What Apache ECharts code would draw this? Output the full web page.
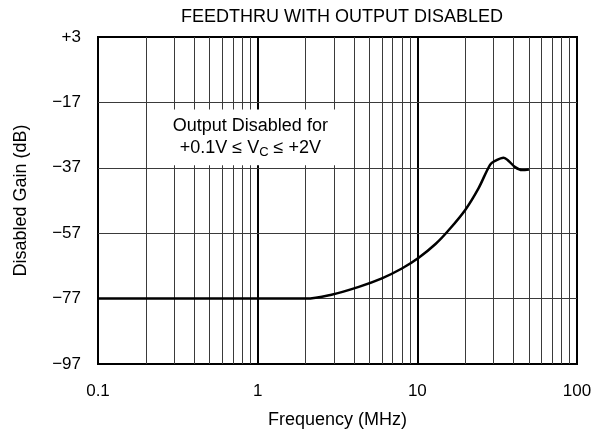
<!DOCTYPE html>
<html>
<head>
<meta charset="utf-8">
<script src="https://cdn.jsdelivr.net/npm/echarts@6/dist/echarts.min.js"></script>
<style>
html,body{margin:0;padding:0;background:#fff;}
#chart{width:599px;height:434px;}
</style>
</head>
<body>
<div id="chart"></div>
<script>
// Data
var freqMHz = [0.1, 1, 2, 2.9, 4.3, 6, 8, 10.2, 13, 15.7, 20, 24.2, 28.6, 30.7, 34.7, 37.3, 41, 45.2, 50];
var gainDB  = [-77, -77, -77, -75.8, -73.4, -70.8, -67.8, -64.5, -60.3, -56.1, -49.8, -43.2, -36, -34.9, -33.9, -34.9, -36.8, -37.7, -37.5];
var yTicks = [-97, -77, -57, -37, -17, 3];
var xTicks = [0.1, 1, 10, 100];
var minorFreqs = [0.2,0.3,0.4,0.5,0.6,0.7,0.8,0.9, 2,3,4,5,6,7,8,9, 20,30,40,50,60,70,80,90];
var majorFreqs = [1, 10];
var gridGains = [-17, -37, -57, -77];

var FONT = "'Liberation Sans', Arial, Helvetica, sans-serif";
var chart = echarts.init(document.getElementById('chart'));

var curve = freqMHz.map(function (f, i) { return [f, gainDB[i]]; });

function fmtY(v) {
  if (v > 0) return '+' + v;
  if (v < 0) return '\u2212' + Math.abs(v);
  return '0';
}

var option = {
  animation: false,
  backgroundColor: '#fff',
  title: {
    text: 'FEEDTHRU WITH OUTPUT DISABLED',
    left: 337, top: 3, textAlign: 'center',
    textStyle: { fontFamily: FONT, fontSize: 18, fontWeight: 'normal', color: '#000' }
  },
  grid: {
    left: 98, right: 22, top: 37, bottom: 70,
    show: true, borderColor: '#000', borderWidth: 2, backgroundColor: 'transparent'
  },
  xAxis: {
    type: 'log', logBase: 10, min: 0.1, max: 100,
    name: 'Frequency (MHz)', nameLocation: 'middle', nameGap: 47,
    nameTextStyle: { fontFamily: FONT, fontSize: 18, color: '#000' },
    axisLine: { show: false }, axisTick: { show: false }, splitLine: { show: false },
    axisLabel: {
      fontFamily: FONT, fontSize: 17, color: '#000', margin: 19,
      formatter: function (v) { return String(+Number(v).toPrecision(3)); }
    }
  },
  yAxis: {
    type: 'value', min: -97, max: 3, interval: 20,
    name: 'Disabled Gain (dB)', nameLocation: 'middle', nameGap: 68,
    nameTextStyle: { fontFamily: FONT, fontSize: 18, color: '#000' },
    axisLine: { show: false }, axisTick: { show: false }, splitLine: { show: false },
    axisLabel: {
      fontFamily: FONT, fontSize: 17, color: '#000', margin: 17,
      padding: [6, 0, 0, 0],
      customValues: yTicks,
      formatter: fmtY
    }
  },
  series: [
    {
      type: 'line', data: [], z: 1, silent: true,
      markLine: {
        z: 1,
        silent: true, symbol: 'none', animation: false,
        label: { show: false },
        data: minorFreqs.map(function (f) {
          return { xAxis: f, lineStyle: { color: '#3a3a3a', width: 1, type: 'solid' } };
        }).concat(majorFreqs.map(function (f) {
          return { xAxis: f, lineStyle: { color: '#000', width: 2, type: 'solid' } };
        })).concat(gridGains.map(function (g) {
          return { yAxis: g, lineStyle: { color: '#3a3a3a', width: 1, type: 'solid' } };
        }))
      }
    },
    {
      type: 'line', data: [], z: 2, silent: true,
      markArea: {
        z: 8,
        silent: true,
        itemStyle: { color: '#fff', opacity: 1 },
        label: {
          show: true, position: 'inside',
          fontFamily: FONT, fontSize: 18, color: '#000',
          formatter: '{a|Output Disabled for}\n{a|+0.1V \u2264 V}{s|C}{a| \u2264 +2V}',
          rich: {
            a: { fontFamily: FONT, fontSize: 18, color: '#000', lineHeight: 22 },
            s: { fontFamily: FONT, fontSize: 13, color: '#000', lineHeight: 22, padding: [9, 0, 0, 0] }
          }
        },
        data: [[{ xAxis: 0.205, yAxis: -19.2 }, { xAxis: 3.95, yAxis: -36.2 }]]
      }
    },
    {
      type: 'line', z: 3, data: curve,
      smooth: 0.35, symbol: 'none',
      lineStyle: { color: '#000', width: 2.5 }
    }
  ]
};
chart.setOption(option);
</script>
</body>
</html>
